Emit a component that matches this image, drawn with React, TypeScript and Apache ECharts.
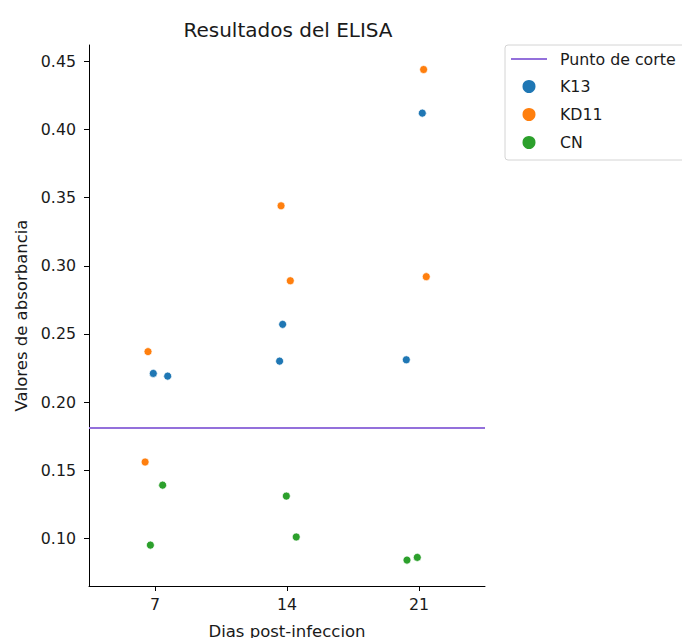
import React, { useEffect, useRef } from "react";
import * as echarts from "echarts";

// Categories (days post-infection) and tick labels
const days = ["7", "14", "21"];
const dayPositions = [0, 1, 2];
const yTicks = [0.1, 0.15, 0.2, 0.25, 0.3, 0.35, 0.4, 0.45];

// K13
const k13Day = [0, 0, 1, 1, 2, 2];
const k13Jitter = [-0.013, 0.096, -0.033, -0.056, 0.025, -0.096];
const k13Values = [0.221, 0.219, 0.257, 0.23, 0.412, 0.231];

// KD11
const kd11Day = [0, 0, 1, 1, 2, 2];
const kd11Jitter = [-0.053, -0.075, -0.045, 0.025, 0.035, 0.055];
const kd11Values = [0.237, 0.156, 0.344, 0.289, 0.444, 0.292];

// CN
const cnDay = [0, 0, 1, 1, 2, 2];
const cnJitter = [0.058, -0.035, -0.005, 0.07, -0.091, -0.013];
const cnValues = [0.139, 0.095, 0.131, 0.101, 0.084, 0.086];

// Cut-off
const cutoff = 0.181;

const FONT = "DejaVu Sans";
const TXT = "#1a1a1a";
const FS = 15.8;
const FS_NAME = 16.5;

function pts(day: number[], jit: number[], vals: number[]) {
  return vals.map((v, i) => [day[i] + jit[i], v]);
}

export default function App() {
  const ref = useRef<HTMLDivElement>(null);
  useEffect(() => {
    if (!ref.current) return;
    const chart = echarts.init(ref.current, null, { renderer: "svg" });
    const scatterStyle = (color: string) => ({
      color,
      borderColor: "#ffffff",
      borderWidth: 0.7,
      opacity: 1,
    });
    chart.setOption({
      animation: false,
      textStyle: { fontFamily: FONT },
      title: {
        text: "Resultados del ELISA",
        left: 283,
        top: 15,
        textAlign: "center",
        textStyle: { fontFamily: FONT, fontSize: 20, fontWeight: "normal", color: TXT },
      },
      grid: {
        left: 89,
        top: 45,
        right: 197,
        bottom: 52,
        containLabel: false,
        outerBoundsMode: "none",
      },
      legend: {
        orient: "vertical",
        left: 505,
        top: 45,
        itemWidth: 36,
        itemHeight: 15,
        itemGap: 11,
        padding: [6, 12, 9, 6],
        borderColor: "#d4d4d4",
        borderWidth: 1,
        borderRadius: 3,
        backgroundColor: "rgba(255,255,255,0.8)",
        textStyle: { fontFamily: FONT, fontSize: FS, color: TXT, padding: [0, 0, 0, 8] },
        data: [
          { name: "Punto de corte", icon: "path://M0,0H36V2H0Z" },
          { name: "K13", icon: "circle" },
          { name: "KD11", icon: "circle" },
          { name: "CN", icon: "circle" },
        ],
      },
      xAxis: {
        type: "value",
        min: -0.5,
        max: 2.5,
        name: "Dias post-infeccion",
        nameLocation: "middle",
        nameGap: 37,
        nameTextStyle: { fontFamily: FONT, fontSize: FS_NAME, color: TXT },
        splitLine: { show: false },
        axisLine: { show: true, onZero: false, lineStyle: { color: "#000", width: 1 } },
        axisTick: { show: true, length: 5, customValues: dayPositions, lineStyle: { color: "#000" } },
        axisLabel: {
          customValues: dayPositions,
          margin: 10,
          fontFamily: FONT,
          fontSize: FS,
          color: TXT,
          formatter: (v: number) => days[Math.round(v)] ?? "",
        },
      },
      yAxis: {
        type: "value",
        min: 0.065,
        max: 0.462,
        name: "Valores de absorbancia",
        nameLocation: "middle",
        nameGap: 59,
        nameRotate: 90,
        nameTextStyle: { fontFamily: FONT, fontSize: FS_NAME, color: TXT },
        splitLine: { show: false },
        axisLine: { show: true, onZero: false, lineStyle: { color: "#000", width: 1 } },
        axisTick: { show: true, length: 5, customValues: yTicks, lineStyle: { color: "#000" } },
        axisLabel: {
          customValues: yTicks,
          margin: 13,
          fontFamily: FONT,
          fontSize: FS,
          color: TXT,
          formatter: (v: number) => v.toFixed(2),
        },
      },
      series: [
        {
          name: "Punto de corte",
          type: "line",
          symbol: "none",
          data: [
            [-0.5, cutoff],
            [2.5, cutoff],
          ],
          itemStyle: { color: "#9370DB" },
          lineStyle: { color: "#9370DB", width: 2 },
          z: 1,
        },
        {
          name: "K13",
          type: "scatter",
          symbolSize: 8,
          data: pts(k13Day, k13Jitter, k13Values),
          itemStyle: scatterStyle("#1f77b4"),
          z: 3,
        },
        {
          name: "KD11",
          type: "scatter",
          symbolSize: 8,
          data: pts(kd11Day, kd11Jitter, kd11Values),
          itemStyle: scatterStyle("#ff7f0e"),
          z: 3,
        },
        {
          name: "CN",
          type: "scatter",
          symbolSize: 8,
          data: pts(cnDay, cnJitter, cnValues),
          itemStyle: scatterStyle("#2ca02c"),
          z: 3,
        },
      ],
    });
    return () => chart.dispose();
  }, []);
  return <div ref={ref} style={{ width: 682, height: 638, position: "absolute", left: 0, top: 0 }} />;
}
